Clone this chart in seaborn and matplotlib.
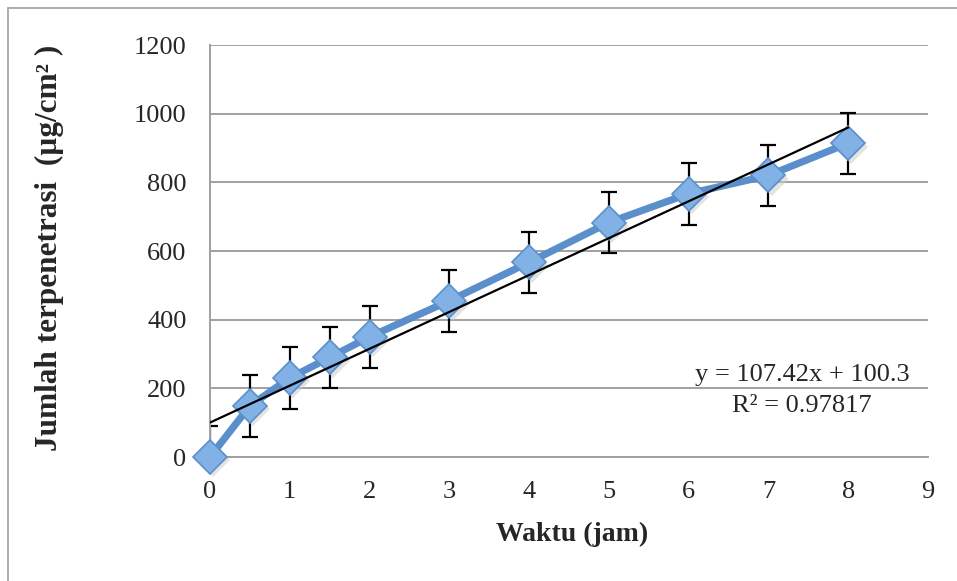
import numpy as np
import pandas as pd
import matplotlib
matplotlib.use("Agg")
import matplotlib.pyplot as plt
from matplotlib.lines import Line2D
import seaborn as sns

# Cumulative permeated amount over time
waktu = [0, 0.5, 1, 1.5, 2, 3, 4, 5, 6, 7, 8]
jumlah = [0, 149, 230, 290, 350, 455, 567, 683, 767, 820, 914]
sd = [90, 90, 90, 88, 90, 90, 89, 89, 90, 90, 89]

# Linear trend line coefficients
slope = 107.42
intercept = 100.3
r_squared = 0.97817

y_ticks = [0, 200, 400, 600, 800, 1000, 1200]
x_ticks = list(range(0, 10))

sns.set_theme(style="white")
plt.rcParams["font.family"] = ["Liberation Serif", "DejaVu Serif"]

W, H = 957, 581
fig = plt.figure(figsize=(W / 100, H / 100), dpi=100)
fig.patch.set_facecolor("white")

# outer frame (top and left edges)
fig.add_artist(Line2D([8 / W, 1.0], [1 - 8 / H, 1 - 8 / H], transform=fig.transFigure,
                      color="#a6a6a6", lw=1.3))
fig.add_artist(Line2D([8 / W, 8 / W], [0.0, 1 - 8 / H], transform=fig.transFigure,
                      color="#a6a6a6", lw=1.3))

left, right, top, bottom = 210, 928, 45, 457
ax = fig.add_axes([left / W, 1 - bottom / H, (right - left) / W, (bottom - top) / H])

df = pd.DataFrame({"Waktu": waktu, "Jumlah": jumlah, "SD": sd})

ax.errorbar(df["Waktu"], df["Jumlah"], yerr=df["SD"], fmt="none", ecolor="black",
            elinewidth=1.6, capsize=5.5, capthick=1.6, zorder=2)

# soft shadow beneath the markers
ax.plot(df["Waktu"] + 0.04, df["Jumlah"] - 10, linestyle="none", marker="D", markersize=17,
        color="#c8c8c8", alpha=0.5, markeredgewidth=0, zorder=2.5, clip_on=False)

sns.lineplot(data=df, x="Waktu", y="Jumlah", ax=ax, color="#5a8fcb", linewidth=5.2,
             marker="D", markersize=17, markerfacecolor="#82b1e6",
             markeredgecolor="#5a8fcb", markeredgewidth=1.2, zorder=3, clip_on=False)

xt = np.array([0, 8])
ax.plot(xt, slope * xt + intercept, color="black", linewidth=1.6, zorder=4)

ax.annotate(f"y = {slope}x + {intercept}", xy=(802 / W, 1 - 375 / H),
            xycoords="figure fraction", fontsize=19, ha="center", va="center")
ax.annotate(f"R² = {r_squared}", xy=(802 / W, 1 - 406 / H), xycoords="figure fraction",
            fontsize=19, ha="center", va="center")

ax.set_xlim(0, 9)
ax.set_ylim(0, 1200)
ax.set_xticks(x_ticks)
ax.set_yticks(y_ticks)
ax.set_xticklabels([str(t) for t in x_ticks], fontsize=19)
ax.set_yticklabels([str(t) for t in y_ticks], fontsize=19)
ax.tick_params(axis="x", length=0, pad=17)
ax.tick_params(axis="y", length=0, pad=17)

ax.yaxis.grid(True, color="#a0a0a0", linewidth=1.4)
ax.xaxis.grid(False)
ax.set_axisbelow(True)
for s in ["top", "right"]:
    ax.spines[s].set_visible(False)
ax.spines["left"].set_color("#a0a0a0")
ax.spines["left"].set_linewidth(1.4)
ax.spines["bottom"].set_color("#a0a0a0")
ax.spines["bottom"].set_linewidth(1.4)

ax.set_xlabel("Waktu (jam)", fontsize=20, fontweight="bold")
ax.xaxis.set_label_coords((572 - left) / (right - left), -(522 - bottom) / (bottom - top))
ax.set_ylabel("Jumlah terpenetrasi  (µg/cm² )", fontsize=22.5, fontweight="bold")
ax.yaxis.set_label_coords((64 - left) / (right - left), (bottom - 248) / (bottom - top))

fig.savefig("out.png", dpi=100)
